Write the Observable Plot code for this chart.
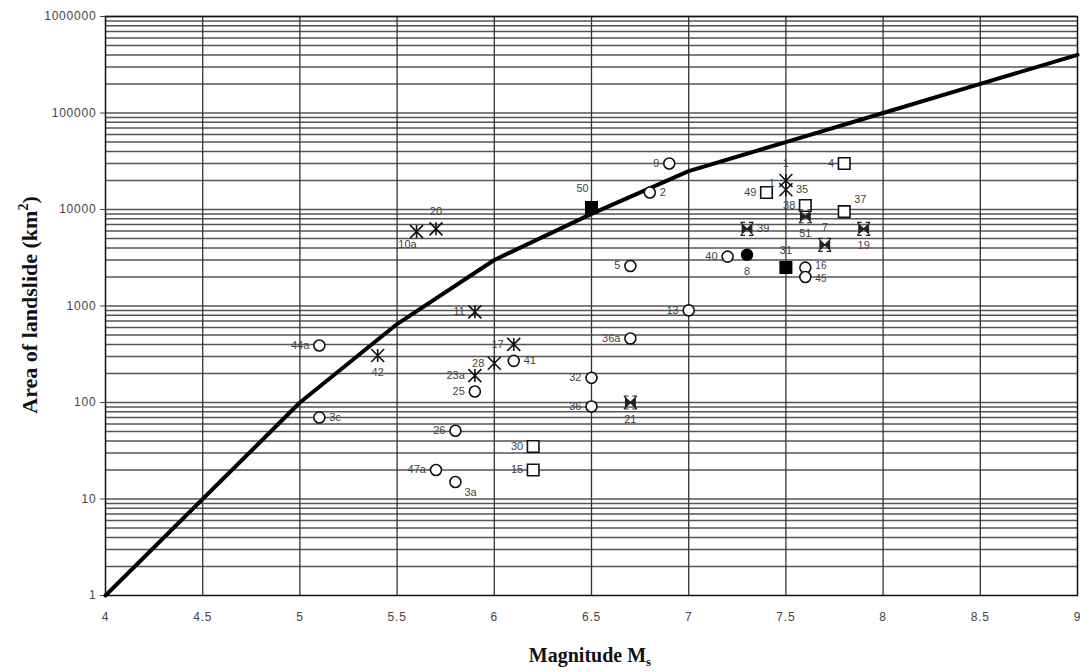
<!DOCTYPE html>
<html>
<head>
<meta charset="utf-8">
<script src="https://cdn.jsdelivr.net/npm/d3@7"></script>
<script src="https://cdn.jsdelivr.net/npm/@observablehq/plot@0.6"></script>
<style>
  html, body { margin: 0; padding: 0; background: #fff; }
  #chart { width: 1080px; height: 672px; }
  svg { font-family: "Liberation Sans", Arial, sans-serif; }
  svg g[aria-label="x-axis tick label"] text, svg g[aria-label="y-axis tick label"] text { letter-spacing: 0.8px; }
</style>
</head>
<body>
<div id="chart"></div>
<script>
// ---- Data ----
// Upper-bound curve
const curveM = [4, 5, 5.5, 6, 6.5, 7, 7.5, 8, 8.5, 9];
const curveA = [1, 100, 650, 3000, 9000, 25000, 50000, 100000, 200000, 400000];

// Earthquake points
const ids   = ["9","2","50","4","1","35","49","38","37","51","7","39","19","40","8","31","16","45","5","13","36a","32","36","21","30","15","17","41","28","23a","25","26","47a","3a","11","20","10a","44a","42","3c"];
const mags  = [6.9,6.8,6.5,7.8,7.5,7.5,7.4,7.6,7.8,7.6,7.7,7.3,7.9,7.2,7.3,7.5,7.6,7.6,6.7,7.0,6.7,6.5,6.5,6.7,6.2,6.2,6.1,6.1,6.0,5.9,5.9,5.8,5.7,5.8,5.9,5.7,5.6,5.1,5.4,5.1];
const areas = [30000,15000,10500,30000,20000,16000,15000,11000,9500,8500,4300,6300,6300,3250,3400,2500,2500,2000,2600,900,460,180,91,100,35,20,400,270,255,190,130,51,20,15,870,6300,5900,390,307,70];
const kinds = ["circle","circle","fsquare","square","star","star","square","square","square","xbox","xbox","xbox","xbox","circle","fcircle","fsquare","circle","circle","circle","circle","circle","circle","circle","xbox","square","square","star","circle","star","star","circle","circle","circle","circle","star","star","star","circle","star","circle"];
const labelSide = ["l","r","tl","l","t","r","l","l","tr","b","t","r","b","l","b","t","ru","rd","l","l","l","l","l","b","l","l","l","r","l","l","l","l","l","br","l","t","bl","l","b","r"];

// extra label appearing beside the 35 marker
const extraText = ["1"];
const extraM = [7.5];
const extraA = [17500];

// Axis ticks
const xTicks = [4, 4.5, 5, 5.5, 6, 6.5, 7, 7.5, 8, 8.5, 9];
const yTicks = [1, 10, 100, 1000, 10000, 100000, 1000000];

// ---- Build tables ----
const curve = curveM.map((m, i) => ({M: m, A: curveA[i]}));
const pts = ids.map((id, i) => ({id, M: mags[i], A: areas[i], kind: kinds[i], side: labelSide[i]}));
const extras = extraText.map((t, i) => ({id: t, M: extraM[i], A: extraA[i]}));
const minor = [];
for (let k = 0; k < 6; k++) for (let m = 2; m <= 10; m++) minor.push(m * Math.pow(10, k));
const vgrid = xTicks.filter(v => v > 4 && v < 9);

// custom symbols
const asterisk = {
  draw(ctx, size) {
    const r = Math.sqrt(size / Math.PI);
    ctx.moveTo(-r, -r); ctx.lineTo(r, r);
    ctx.moveTo(r, -r); ctx.lineTo(-r, r);
    ctx.moveTo(0, -r); ctx.lineTo(0, r);
  }
};
const xbox = {
  draw(ctx, size) {
    const r = Math.sqrt(size / Math.PI);
    const t = r * 0.75;
    ctx.moveTo(-t, -t * 0.8); ctx.lineTo(-r * 0.15, 0); ctx.lineTo(-t, t * 0.8); ctx.closePath();
    ctx.moveTo(t, -t * 0.8); ctx.lineTo(r * 0.15, 0); ctx.lineTo(t, t * 0.8); ctx.closePath();
    ctx.moveTo(-r, -r); ctx.lineTo(r, r);
    ctx.moveTo(r, -r); ctx.lineTo(-r, r);
    ctx.moveTo(-r, -r); ctx.lineTo(-r * 0.3, -r);
    ctx.moveTo(r, -r); ctx.lineTo(r * 0.3, -r);
    ctx.moveTo(-r, r); ctx.lineTo(-r * 0.3, r);
    ctx.moveTo(r, r); ctx.lineTo(r * 0.3, r);
  }
};

const of = k => pts.filter(d => d.kind === k);
const side = s => pts.filter(d => d.side === s);
const lblStyle = {x: "M", y: "A", text: "id", fontSize: 11, fill: "#444"};

const plot = Plot.plot({
  width: 1080,
  height: 672,
  marginLeft: 105,
  marginRight: 3,
  marginTop: 16,
  marginBottom: 77,
  style: {fontFamily: "Liberation Sans, Arial, sans-serif", fontSize: "12px", color: "#444"},
  x: {domain: [4, 9], ticks: xTicks, tickFormat: d => String(d), tickSize: 0, tickPadding: 17, label: null},
  y: {type: "log", domain: [1, 1000000], ticks: yTicks, tickFormat: d => String(d), tickSize: 5, tickPadding: 4, label: null},
  marks: [
    Plot.ruleY(minor, {stroke: "#555", strokeWidth: 1.5}),
    Plot.ruleX(vgrid, {stroke: "#333", strokeWidth: 1.3}),
    Plot.frame({stroke: "#111", strokeWidth: 1.5}),
    Plot.line(curve, {x: "M", y: "A", stroke: "#000", strokeWidth: 4}),
    Plot.dot(of("circle"), {x: "M", y: "A", r: 5.5, symbol: "circle", stroke: "#111", strokeWidth: 1.6, fill: "#fff"}),
    Plot.dot(of("fcircle"), {x: "M", y: "A", r: 5.5, symbol: "circle", stroke: "#000", fill: "#000"}),
    Plot.dot(of("square"), {x: "M", y: "A", r: 6.5, symbol: "square", stroke: "#111", strokeWidth: 1.6, fill: "#fff"}),
    Plot.dot(of("fsquare"), {x: "M", y: "A", r: 6.5, symbol: "square", stroke: "#000", fill: "#000"}),
    Plot.dot(of("star"), {x: "M", y: "A", r: 6.5, symbol: asterisk, stroke: "#111", strokeWidth: 1.6, fill: "none"}),
    Plot.dot(of("xbox"), {x: "M", y: "A", r: 6.5, symbol: xbox, stroke: "#222", strokeWidth: 1.1, fill: "#222"}),
    Plot.text(side("l"), {...lblStyle, dx: -10, textAnchor: "end"}),
    Plot.text(side("r"), {...lblStyle, dx: 10, textAnchor: "start"}),
    Plot.text(side("ru"), {...lblStyle, fontSize: 10, dx: 10, dy: -2, textAnchor: "start"}),
    Plot.text(side("rd"), {...lblStyle, fontSize: 10, dx: 10, dy: 2, textAnchor: "start"}),
    Plot.text(side("t"), {...lblStyle, dy: -17}),
    Plot.text(side("b"), {...lblStyle, dy: 17}),
    Plot.text(side("tl"), {...lblStyle, dx: -9, dy: -19}),
    Plot.text(side("tr"), {...lblStyle, dx: 10, dy: -12, textAnchor: "start"}),
    Plot.text(side("br"), {...lblStyle, dx: 9, dy: 10, textAnchor: "start"}),
    Plot.text(side("bl"), {...lblStyle, dx: -9, dy: 13}),
    Plot.text(extras, {...lblStyle, dx: -14, dy: -3})
  ]
});

document.getElementById("chart").appendChild(plot);

// Axis titles with super/subscript
const svg = d3.select(plot);
const yt = svg.append("text")
  .attr("transform", "translate(37,305) rotate(-90)")
  .attr("text-anchor", "middle")
  .attr("font-family", "'Liberation Serif', 'Times New Roman', serif")
  .attr("font-weight", "bold")
  .attr("font-size", 22)
  .attr("fill", "#111");
yt.append("tspan").text("Area of landslide (km");
yt.append("tspan").attr("font-size", 14).attr("dy", -9).text("2");
yt.append("tspan").attr("dy", 9).text(")");

const xt = svg.append("text")
  .attr("x", 590).attr("y", 662)
  .attr("text-anchor", "middle")
  .attr("font-family", "'Liberation Serif', 'Times New Roman', serif")
  .attr("font-weight", "bold")
  .attr("font-size", 20)
  .attr("fill", "#111");
xt.append("tspan").text("Magnitude M");
xt.append("tspan").attr("font-size", 13).attr("dy", 4).text("s");
</script>
</body>
</html>
